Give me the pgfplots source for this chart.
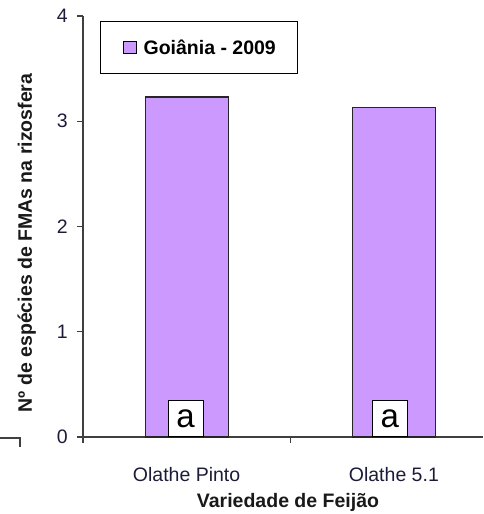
\documentclass[border=0pt]{standalone}
\usepackage{pgfplots}
\pgfplotsset{compat=1.18}
\usepackage{fontspec}
\setmainfont{Liberation Sans}
\definecolor{barfill}{HTML}{CC99FF}
\definecolor{ticktext}{HTML}{1C1C38}
\definecolor{axisgray}{HTML}{404040}
\begin{document}
\begin{tikzpicture}
\path[use as bounding box] (0pt,0pt) rectangle (483pt,514pt);
\draw[line width=1.3pt, axisgray] (0pt,76pt) -- (20pt,76pt) -- (20pt,67pt);
\begin{axis}[
  at={(83pt,77pt)}, anchor=south west,
  scale only axis, width=400pt, height=421pt,
  xmin=-0.5, xmax=1.43, ymin=0, ymax=4,
  axis x line*=bottom, axis y line*=left,
  axis line style={line width=1.3pt, axisgray},
  ytick={0,1,2,3,4},
  xtick={-0.5,0.5,1.5}, xticklabels={},
  extra x ticks={0,1},
  extra x tick labels={Olathe Pinto,Olathe 5.1},
  extra x tick style={tick style={draw=none},
    tick label style={anchor=north, inner sep=0pt, yshift=-24pt}},
  tick align=outside, major tick length=6pt,
  tick style={line width=1.3pt, axisgray},
  /pgf/number format/assume math mode=true,
  tick label style={font=\fontsize{19.5}{20}\selectfont, text=ticktext},
  yticklabel style={anchor=east, inner sep=0pt, xshift=-9pt},
  every axis y label/.style={at={(axis description cs:-0.1275,0.461)}, rotate=90, anchor=base,
    font=\fontsize{19.5}{20}\selectfont\bfseries, text=black!90},
  every axis x label/.style={at={(axis description cs:0.5125,-0.1686)}, anchor=base,
    font=\fontsize{19.5}{20}\selectfont\bfseries, text=black!90},
  ylabel={Nº de espécies de FMAs na rizosfera},
  xlabel={Variedade de Feijão},
  legend style={at={(axis description cs:0.0425,0.988)}, anchor=north west,
    draw=black, line width=1.2pt, fill=white,
    inner xsep=22pt, inner ysep=18pt, column sep=7pt,
    nodes={inner sep=0pt},
    font=\fontsize{19.5}{20}\selectfont\bfseries},
  legend image code/.code={\draw[fill=barfill, draw=black, line width=1pt] (0pt,-6pt) rectangle (13pt,6pt);},
  clip=false,
]
\addplot[ybar, bar width=83pt, fill=barfill, draw=black!85, line width=1.2pt]
  coordinates {(0,3.23) (1,3.13)};
\addlegendentry{Goiânia - 2009}
\node[draw=black, line width=1pt, fill=white, minimum width=35pt, minimum height=36pt,
  inner sep=0pt, anchor=south, font=\fontsize{33}{33}\selectfont] at (axis cs:-0.005,0) {a};
\node[draw=black, line width=1pt, fill=white, minimum width=35pt, minimum height=36pt,
  inner sep=0pt, anchor=south, font=\fontsize{33}{33}\selectfont] at (axis cs:0.98,0) {a};
\end{axis}
\end{tikzpicture}
\end{document}
